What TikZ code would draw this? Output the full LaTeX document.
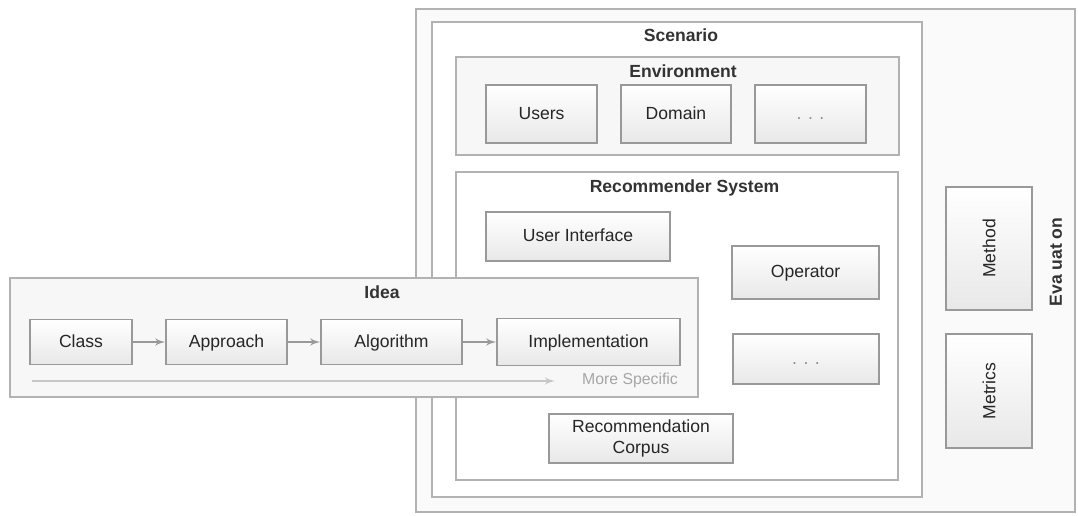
\documentclass[tikz,border=0pt]{standalone}
\usepackage{fontspec}
\setmainfont{Liberation Sans}
\usepackage{tikz}
\usetikzlibrary{arrows}
\newlength{\px}
\setlength{\px}{0.02cm}
\tikzset{panel/.style = {shape=rectangle,draw=black!30,fill=white,line width=0.8pt}}
\tikzset{box/.style = {shape=rectangle,draw=black!40,top color=white,bottom color=black!9,line width=0.8pt,text=black!85,align=center}}
\tikzset{onerow/.style = {text height=1.6ex,text depth=.45ex}}
\tikzset{heading/.style = {font=\fontsize{10}{12}\selectfont\bfseries,text=black!80}}
\tikzset{edge/.style = {->,> = latex',draw=black!40,line width=1pt}}

\begin{document}
\begin{tikzpicture}[x=\px,y=-\px,font=\fontsize{10}{12}\selectfont]
                \useasboundingbox[fill=white] (0,0) rectangle (1078,516);
                % evaluation and scenario
                \node[panel,fill=black!2,minimum width=659\px,minimum height=503\px] (eval) at (745.5,260.5) {};
                \node[panel,minimum width=490\px,minimum height=475\px] (scen) at (677,259.5) {};
                \node[heading] (scentitle) at (681,35) {Scenario};
                \node[panel,fill=black!3,minimum width=443\px,minimum height=98\px] (env) at (677.5,106) {};
                \node[heading] (envtitle) at (683,71) {Environment};
                \node[box,onerow,minimum width=111\px,minimum height=58\px] (users) at (541.5,114) {Users};
                \node[box,onerow,minimum width=110\px,minimum height=58\px] (domain) at (676,114) {Domain};
                \node[box,onerow,minimum width=111\px,minimum height=58\px,text=black!45] (envmore) at (810.5,114) {. . .};
                \node[panel,minimum width=442\px,minimum height=308\px] (rs) at (677,326) {};
                \node[heading] (rstitle) at (684.5,188) {Recommender System};
                \node[box,onerow,minimum width=184\px,minimum height=49\px] (ui) at (578,236.5) {User Interface};
                \node[box,onerow,minimum width=147\px,minimum height=53\px] (operator) at (805.5,272.5) {Operator};
                \node[box,onerow,minimum width=146\px,minimum height=50\px,text=black!45] (rsmore) at (806,359) {. . .};
                \node[box,minimum width=184\px,minimum height=49\px] (corpus) at (641,438.5) {Recommendation\\Corpus};
                \node[box,minimum width=86\px,minimum height=123\px] (method) at (989,248.5) {\rotatebox{90}{Method}};
                \node[box,minimum width=86\px,minimum height=114\px] (metrics) at (989,391) {\rotatebox{90}{Metrics}};
                \node[heading,rotate=90] (evaltitle) at (1056,262) {Eva uat on};
                % idea
                \node[panel,fill=black!3,minimum width=688\px,minimum height=119\px] (idea) at (354,337.5) {};
                \node[heading] (ideatitle) at (382,292) {Idea};
                \node[box,onerow,minimum width=102\px,minimum height=45\px] (class) at (81,342) {Class};
                \node[box,onerow,minimum width=121\px,minimum height=45\px] (approach) at (226.5,342) {Approach};
                \draw[edge] (class) -- (approach);
                \node[box,onerow,minimum width=141\px,minimum height=45\px] (algo) at (391.5,342) {Algorithm};
                \draw[edge] (approach) -- (algo);
                \node[box,onerow,minimum width=183\px,minimum height=47\px] (impl) at (588.5,342) {Implementation};
                \draw[edge] (algo) -- (impl);
                \coordinate (spec0) at (32,381);
                \coordinate (spec1) at (555,381);
                \draw[edge,draw=black!22] (spec0) -- (spec1);
                \node[text=black!35,font=\fontsize{9}{11}\selectfont] (spectext) at (630,380) {More Specific};
            \end{tikzpicture}
\end{document}
